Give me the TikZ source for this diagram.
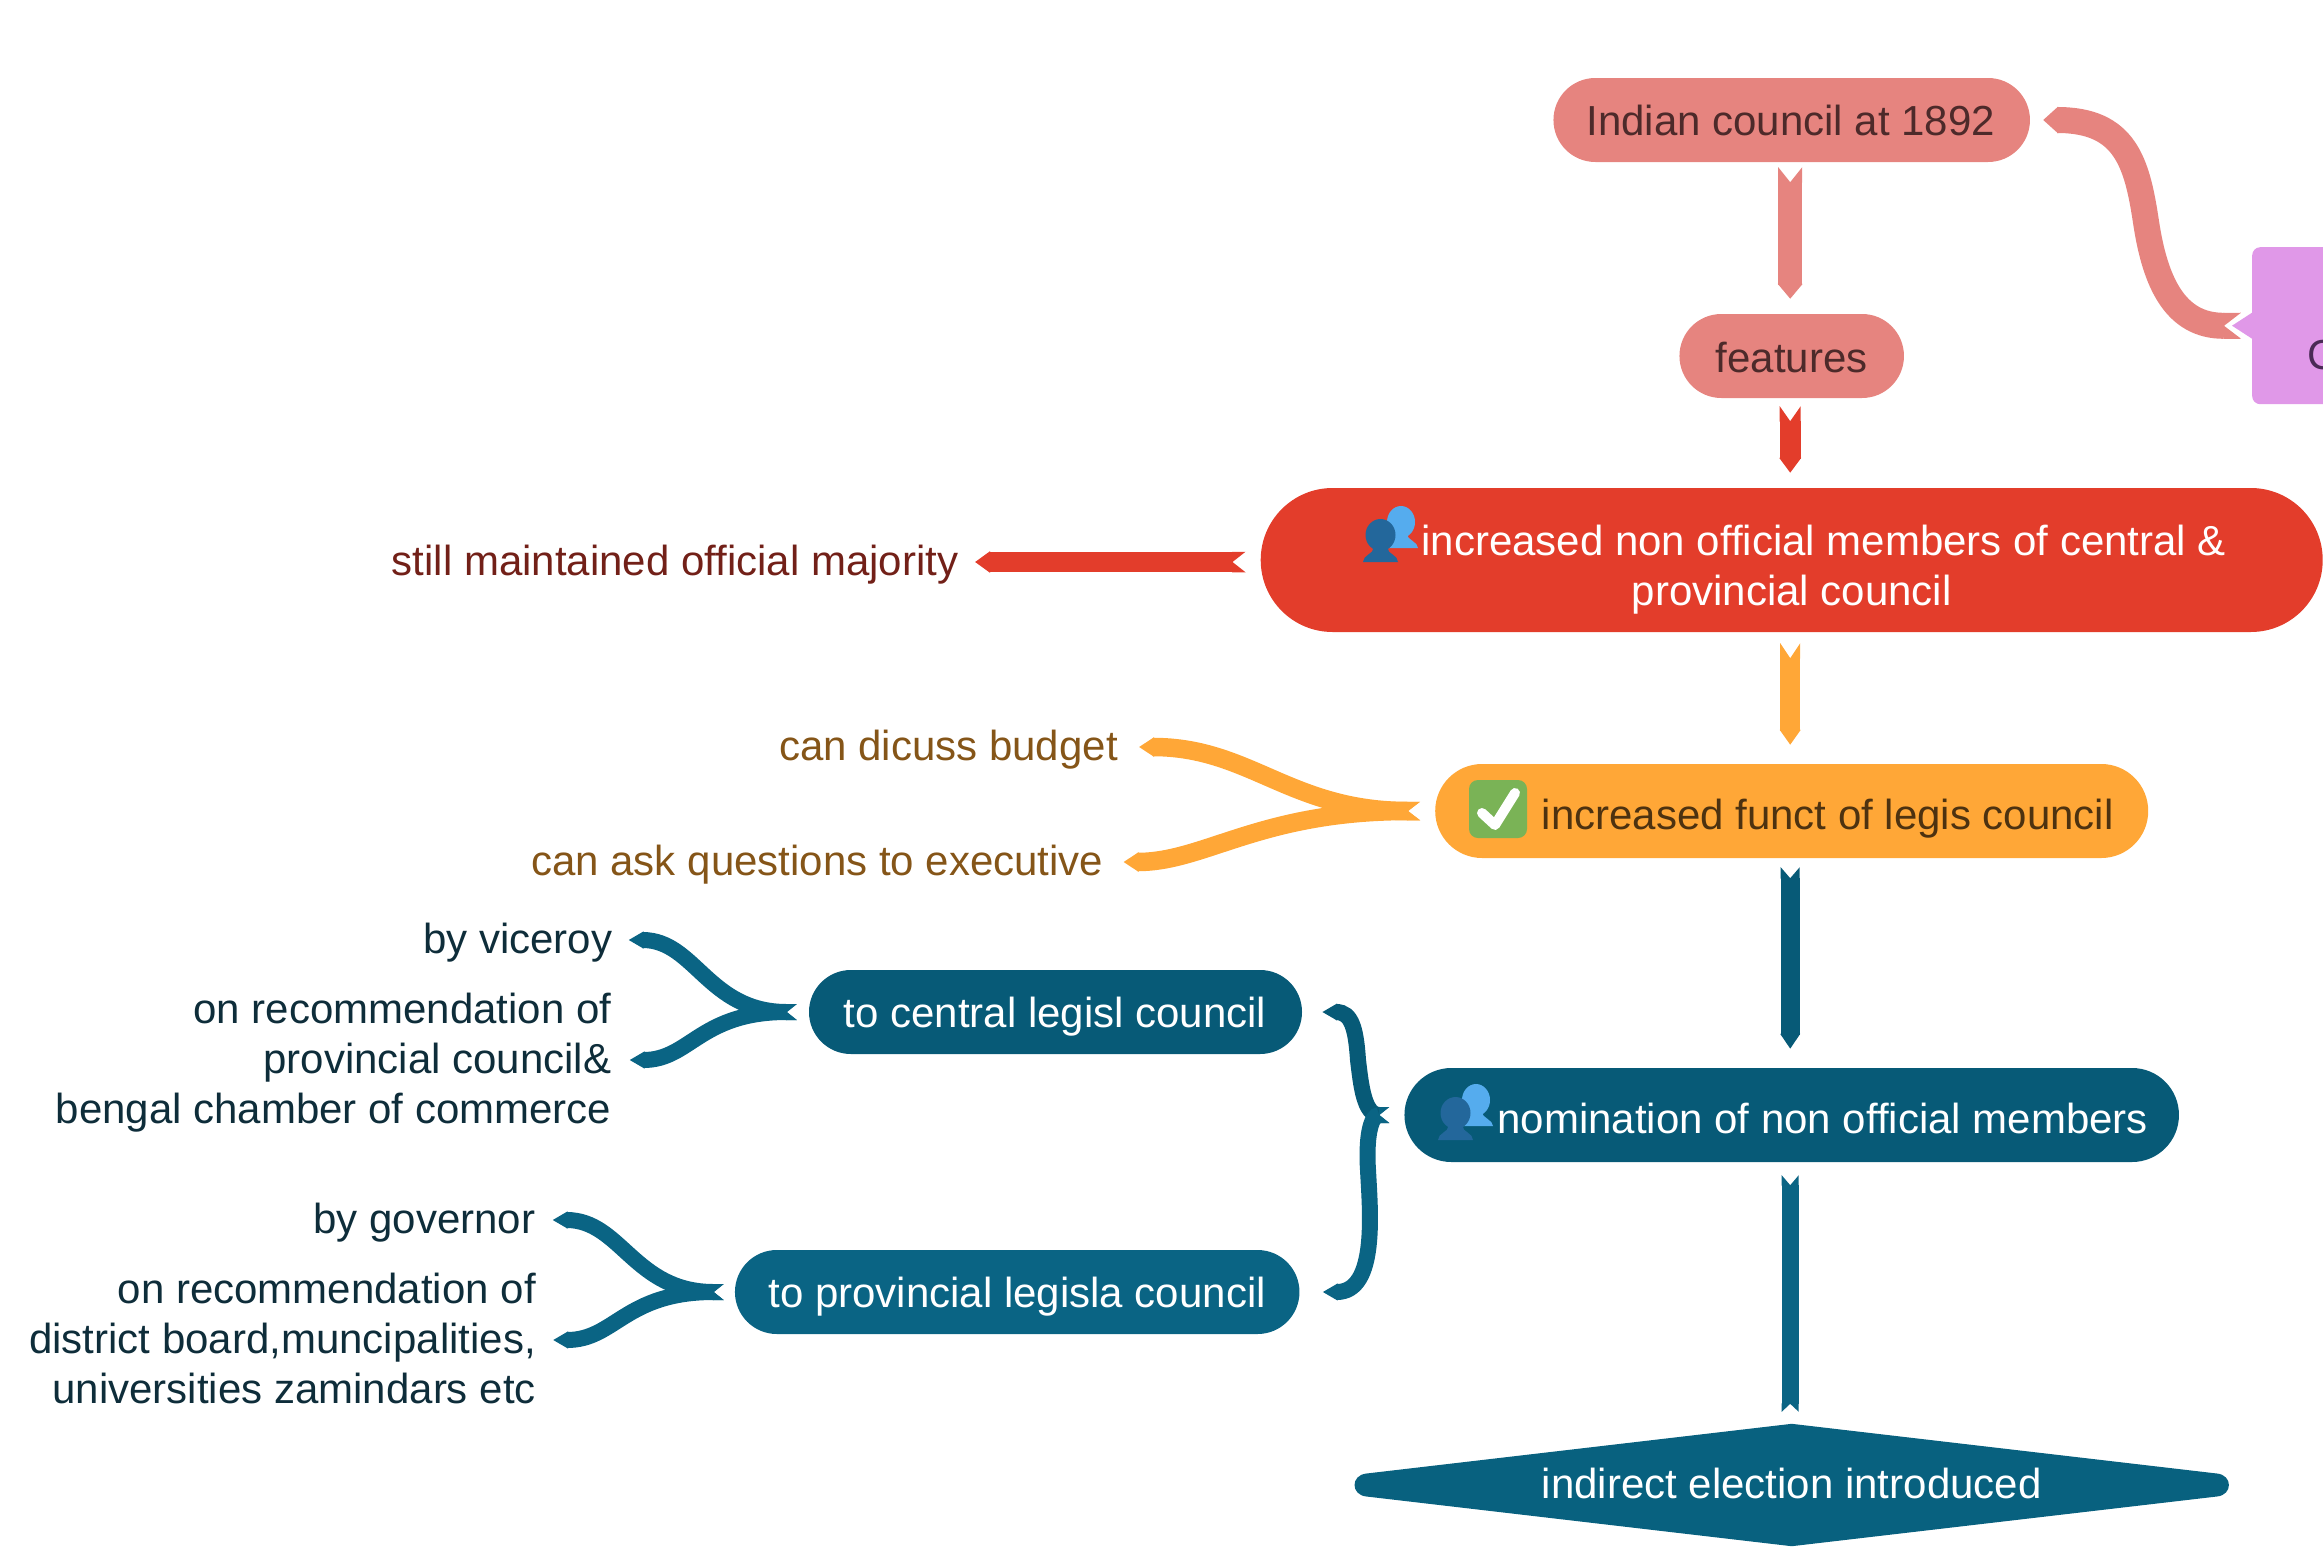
\documentclass[tikz,border=0pt]{standalone}
\usepackage{fontspec}
\setmainfont{Liberation Sans}
\usetikzlibrary{arrows.meta,backgrounds}
\definecolor{salmon}{HTML}{E6847F}
\definecolor{redfill}{HTML}{E33D2B}
\definecolor{orangefill}{HTML}{FFA737}
\definecolor{tealdark}{HTML}{075A77}
\definecolor{teallight}{HTML}{0A6484}
\definecolor{tealmid}{HTML}{08617F}
\definecolor{pinkfill}{HTML}{E098E8}
\definecolor{pinktext}{HTML}{4A2A55}
\definecolor{salmontext}{HTML}{4D2A2A}
\definecolor{redtext}{HTML}{722018}
\definecolor{orangetext}{HTML}{855518}
\definecolor{orangedark}{HTML}{4D3210}
\definecolor{tealtext}{HTML}{0E2D3A}
\definecolor{userdark}{HTML}{23679B}
\definecolor{userlight}{HTML}{55ACEE}
\definecolor{tickgreen}{HTML}{7AB356}
\pgfdeclarearrow{
    name = Notch,
    parameters = {\the\pgfarrowlength,\the\pgfarrowlinewidth},
    setup code = {
        \pgfarrowssettipend{\pgfarrowlength}
        \pgfarrowssetlineend{0pt}
        \pgfarrowssetbackend{-0.5pt}
        \pgfarrowssavethe\pgfarrowlength
        \pgfarrowssavethe\pgfarrowlinewidth
    },
    drawing code = {
        \pgfpathmoveto{\pgfpoint{-0.5pt}{.5\pgfarrowlinewidth}}
        \pgfpathlineto{\pgfpoint{\pgfarrowlength}{.5\pgfarrowlinewidth}}
        \pgfpathlineto{\pgfpoint{0pt}{0pt}}
        \pgfpathlineto{\pgfpoint{\pgfarrowlength}{-.5\pgfarrowlinewidth}}
        \pgfpathlineto{\pgfpoint{-0.5pt}{-.5\pgfarrowlinewidth}}
        \pgfpathclose
        \pgfusepathqfill
    },
    defaults = {length=15pt, line width=0pt 1}
}
\tikzset{
    block/.style = {rectangle, rounded corners=41.9pt, inner sep=0pt,
        minimum height=84pt, align=center,
        font=\fontsize{42}{50}\selectfont},
    label/.style = {anchor=east, inner sep=0pt, align=right,
        font=\fontsize{42}{50}\selectfont},
    single/.style = {label, text height=36pt, text depth=8.5pt},
    flow/.style = {{Notch[length=#1]}-{Triangle[length=15pt,width=0pt 1]}},
    flow/.default = 15pt,
    users/.pic = {
        \fill [userlight] (20.5,40) ellipse (14 and 16);
        \fill [userlight] (7.5,14) .. controls (12,20) and (15,22) .. (15,28) -- (26,28) .. controls (27,22) and (37.5,20) .. (37.5,14) -- cycle;
        \fill [userdark] (0,27) ellipse (15 and 16);
        \fill [userdark] (-17.5,0) .. controls (-17.5,7) and (-7,8) .. (-7,14) -- (7,14) .. controls (7,8) and (17.5,7) .. (17.5,0) -- cycle;
    },
    tickbox/.pic = {
        \fill [tickgreen, rounded corners=9pt] (-29,-29) rectangle (29,29);
        \draw [white, line width=10pt, line cap=round, line join=round] (-16,-4) -- (-3,-16) -- (17,16);
    }
}
\begin{document}
\begin{tikzpicture}[x=1pt,y=1pt]
    \useasboundingbox (0,0) rectangle (2323,-1555);
    \clip (0,0) rectangle (2323,-1555);
    % middle column
    \node [block, fill=salmon, text=salmontext, minimum width=476.5pt] (indian) at (1791.7,-120) {\hspace*{-2pt}Indian council at 1892};
    \node [block, fill=salmon, text=salmontext, minimum width=224.5pt, below of=indian, node distance=236pt, text height=33pt] (features) {features};
    \node [block, fill=redfill, text=white, minimum width=1062pt, minimum height=144pt, rounded corners=71.9pt, below of=features, node distance=204pt] (majority) {\rule{0pt}{50.6pt}\hspace*{64pt}increased non official members of central \&\\provincial council};
    \node [block, fill=orangefill, text=orangedark, minimum width=713pt, minimum height=94pt, rounded corners=46.9pt, below of=majority, node distance=251pt, text height=46pt] (funct) {\hspace*{72pt}increased funct of legis council};
    \node [block, fill=tealdark, text=white, minimum width=774.5pt, minimum height=94pt, rounded corners=46.9pt, below of=funct, node distance=304pt, text height=38pt] (nomination) {\hspace*{62pt}nomination of non official members};
    \node [block, text=white, minimum width=874pt, minimum height=122pt, below of=nomination, node distance=370pt, text depth=3pt] (election) {indirect election introduced};
    \begin{scope}[on background layer]
        \fill [tealmid] (election.north) -- ([xshift=12pt,yshift=11.5pt]election.west) .. controls ([xshift=-4pt,yshift=10pt]election.west) and ([xshift=-4pt,yshift=-10pt]election.west) .. ([xshift=12pt,yshift=-11.5pt]election.west) -- (election.south) -- ([xshift=-12pt,yshift=-11.5pt]election.east) .. controls ([xshift=4pt,yshift=-10pt]election.east) and ([xshift=4pt,yshift=10pt]election.east) .. ([xshift=-12pt,yshift=11.5pt]election.east) -- cycle;
    \end{scope}
    \pic at (1380.5,-562) {users};
    \pic at (1498,-809) {tickbox};
    \pic at (1455.5,-1140) {users};
    % cut off box on the right
    \node [block, fill=pinkfill, text=pinktext, anchor=west, minimum width=140pt, minimum height=157pt, rounded corners=8pt] (cut) at (2252,-325.7) {\ \\[38pt]C};
    \fill [pinkfill] ([yshift=13pt]cut.west) -- ++(-20,-13) -- ++(20,-13) -- cycle;
    % left side
    \node [block, fill=tealdark, text=white, minimum width=493pt, text height=39.6pt] (central) at (1055.5,-1012) {\hspace*{-1pt}to central legisl council};
    \node [block, fill=teallight, text=white, minimum width=564.5pt, text height=39.6pt] (provincial) at (1017.2,-1292) {to provincial legisla council};
    \node [single, text=redtext] (still) at (958.5,-562) {still maintained official majority};
    \node [single, text=orangetext] (dicuss) at (1118,-747) {can dicuss budget};
    \node [single, text=orangetext] (ask) at (1103.5,-862) {can ask questions to executive};
    \node [single, text=tealtext] (viceroy) at (612.5,-940) {by viceroy};
    \node [label, text=tealtext] (recomm) at (611.5,-1063) {on recommendation of\\provincial council\&\\bengal chamber of commerce};
    \node [single, text=tealtext] (governor) at (535.5,-1220) {by governor};
    \node [label, text=tealtext] (district) at (536,-1338) {on recommendation of\\district board,muncipalities,\\universities zamindars etc};
    % connectors
    \draw [flow, salmon, line width=24pt, shorten <=5pt, shorten >=15pt] ([xshift=-1.5pt]indian.south) -- ([xshift=-1.5pt]features.north);
    \draw [flow, redfill, line width=21pt, shorten <=8pt, shorten >=15pt] ([xshift=-1.5pt]features.south) -- ([xshift=-1.5pt]majority.north);
    \draw [flow=13pt, redfill, line width=20.5pt, shorten <=15pt, shorten >=16.5pt] ([yshift=-2pt]majority.west) -- (still);
    \draw [flow, orangefill, line width=20pt, shorten <=11pt, shorten >=19pt] ([xshift=-1.5pt]majority.south) -- ([xshift=-1.5pt]funct.north);
    \draw [flow=11pt, tealdark, line width=19pt, shorten <=9pt, shorten >=19pt] ([xshift=-1.5pt]funct.south) -- ([xshift=-1.5pt]nomination.north);
    \draw [{Notch[length=10pt]}-{Notch[length=8pt]}, teallight, line width=17pt, shorten <=13pt, shorten >=12pt] ([xshift=-1.5pt]nomination.south) -- ([xshift=-1.5pt]election.north);
    \draw [flow=17pt, salmon, line width=26pt, shorten <=11pt, shorten >=13pt] (cut.west) .. controls (2175,-326) and (2155,-282) .. (2146,-222) .. controls (2137,-162) and (2125,-120) .. (indian.east);
    \draw [flow=12pt, orangefill, line width=18.5pt, shorten <=15pt, shorten >=21pt] (funct.west) .. controls (1290,-811) and (1250,-747) .. (dicuss.east);
    \draw [flow=12pt, orangefill, line width=18.5pt, shorten <=15pt, shorten >=20pt] (funct.west) .. controls (1260,-811) and (1205,-862) .. (ask.east);
    \draw [flow=10pt, teallight, line width=16pt, shorten <=12pt, shorten >=16pt] (central.west) .. controls (708,-1012) and (695,-940) .. (viceroy.east);
    \draw [flow=10pt, teallight, line width=16pt, shorten <=12pt, shorten >=18pt] (central.west) .. controls (700,-1012) and (690,-1060) .. ([yshift=3pt]recomm.east);
    \draw [flow=10pt, teallight, line width=16pt, shorten <=11pt, shorten >=17pt] (provincial.west) .. controls (634,-1292) and (621,-1220) .. (governor.east);
    \draw [flow=10pt, teallight, line width=16pt, shorten <=11pt, shorten >=17pt] (provincial.west) .. controls (625,-1292) and (615,-1340) .. ([yshift=-2pt]district.east);
    \draw [flow=10pt, tealdark, line width=16pt, shorten <=15pt, shorten >=20pt] (nomination.west) .. controls (1364,-1115) and (1361,-1085) .. (1358,-1060) .. controls (1356,-1030) and (1352,-1012) .. (central.east);
    \draw [flow=10pt, teallight, line width=16pt, shorten <=15pt, shorten >=23pt] (nomination.west) .. controls (1370,-1115) and (1366,-1140) .. (1368,-1170) .. controls (1370,-1210) and (1378,-1292) .. (provincial.east);
\end{tikzpicture}
\end{document}
